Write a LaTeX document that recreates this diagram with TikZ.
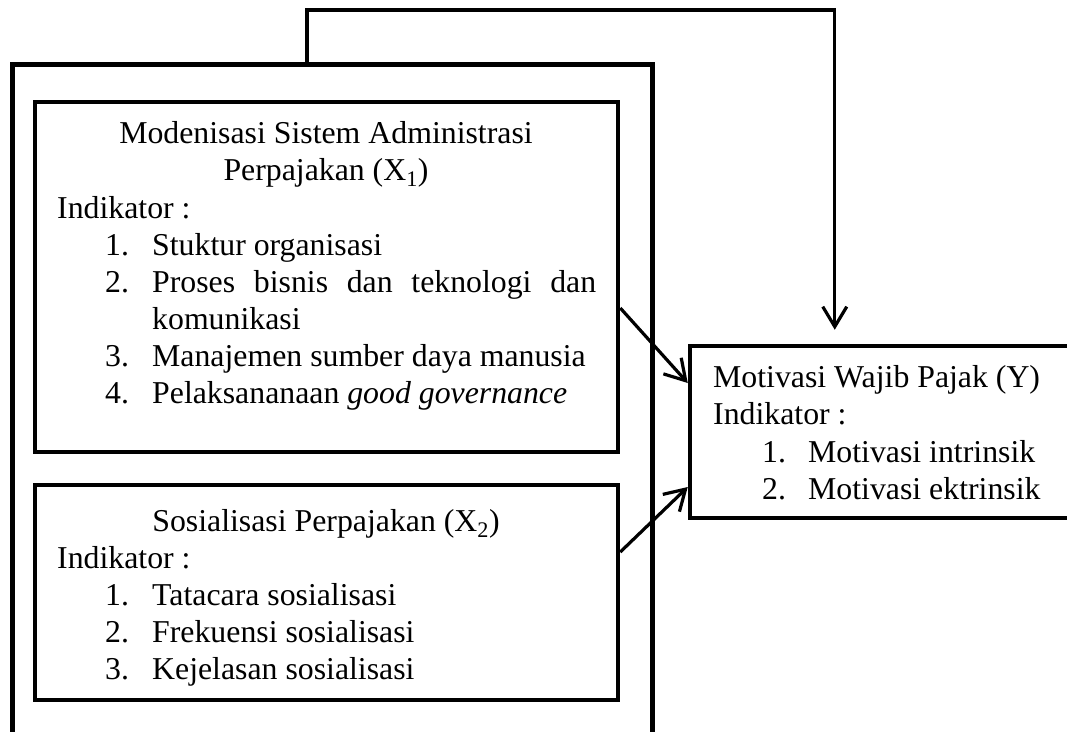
\documentclass[tikz,border=0pt]{standalone}
\usepackage{fontspec}
\setmainfont{Liberation Serif}
\usetikzlibrary{arrows.meta}
\begin{document}
\begin{tikzpicture}[x=1pt,y=-1pt,
  box/.style={draw, line width=4.5pt, rectangle, inner sep=0pt},
  outerline/.style={line width=5pt},
  arr/.style={line width=3.2pt, -{Straight Barb[length=20pt,width=24pt,line width=3.2pt]}},
  txt/.style={inner sep=0pt, font=\fontsize{31.8}{37}\selectfont},
  lbl/.style={txt, anchor=base west},
  ttl/.style={txt, anchor=base}]
\useasboundingbox (0,0) rectangle (1067,731);
% outer frame (open at bottom)
\draw[outerline] (12,740) -- (12,64) -- (652,64) -- (652,740);
\coordinate (otop) at (307,64);
% boxes
\node[box, minimum width=583pt, minimum height=350pt] (X1) at (326.5,277) {};
\node[box, minimum width=583pt, minimum height=215pt] (X2) at (326.5,592.5) {};
\node[box, minimum width=390pt, minimum height=172pt] (Y) at (885,432) {};
% X1 text
\node[ttl] (x1t1) at (326,143) {Modenisasi Sistem Administrasi};
\node[ttl] (x1t2) at (326,180) {Perpajakan (X\textsubscript{1})};
\node[lbl] (x1i) at (57,218) {Indikator :};
\node[lbl] (x1n1) at (105,255) {1.};
\node[lbl] (x1a) at (152,255) {Stuktur organisasi};
\node[lbl] (x1n2) at (105,292) {2.};
\node[lbl] (x1b) at (152,292) {\makebox[444pt][s]{Proses bisnis dan teknologi dan}};
\node[lbl] (x1b2) at (152,329) {komunikasi};
\node[lbl] (x1n3) at (105,366) {3.};
\node[lbl] (x1c) at (152,366) {Manajemen sumber daya manusia};
\node[lbl] (x1n4) at (105,403) {4.};
\node[lbl] (x1d) at (152,403) {Pelaksananaan \textit{good governance}};
% X2 text
\node[ttl] (x2t) at (326,531) {Sosialisasi Perpajakan (X\textsubscript{2})};
\node[lbl] (x2i) at (57,568) {Indikator :};
\node[lbl] (x2n1) at (105,605) {1.};
\node[lbl] (x2a) at (152,605) {Tatacara sosialisasi};
\node[lbl] (x2n2) at (105,642) {2.};
\node[lbl] (x2b) at (152,642) {Frekuensi sosialisasi};
\node[lbl] (x2n3) at (105,679) {3.};
\node[lbl] (x2c) at (152,679) {Kejelasan sosialisasi};
% Y text
\node[lbl] (yt) at (713,387) {Motivasi Wajib Pajak (Y)};
\node[lbl] (yi) at (713,424.5) {Indikator :};
\node[lbl] (yn1) at (762,462) {1.};
\node[lbl] (ya) at (808,462) {Motivasi intrinsik};
\node[lbl] (yn2) at (762,499.5) {2.};
\node[lbl] (yb) at (808,499.5) {Motivasi ektrinsik};
% connectors
\draw[arr] (otop) -- (307,10) -| ([xshift=147pt,yshift=14pt]Y.north west);
\draw[arr] ([yshift=-31pt]X1.east) -- ([yshift=49pt]Y.west);
\draw[arr] ([yshift=40.5pt]X2.east) -- ([yshift=-55pt]Y.west);
\end{tikzpicture}
\end{document}
